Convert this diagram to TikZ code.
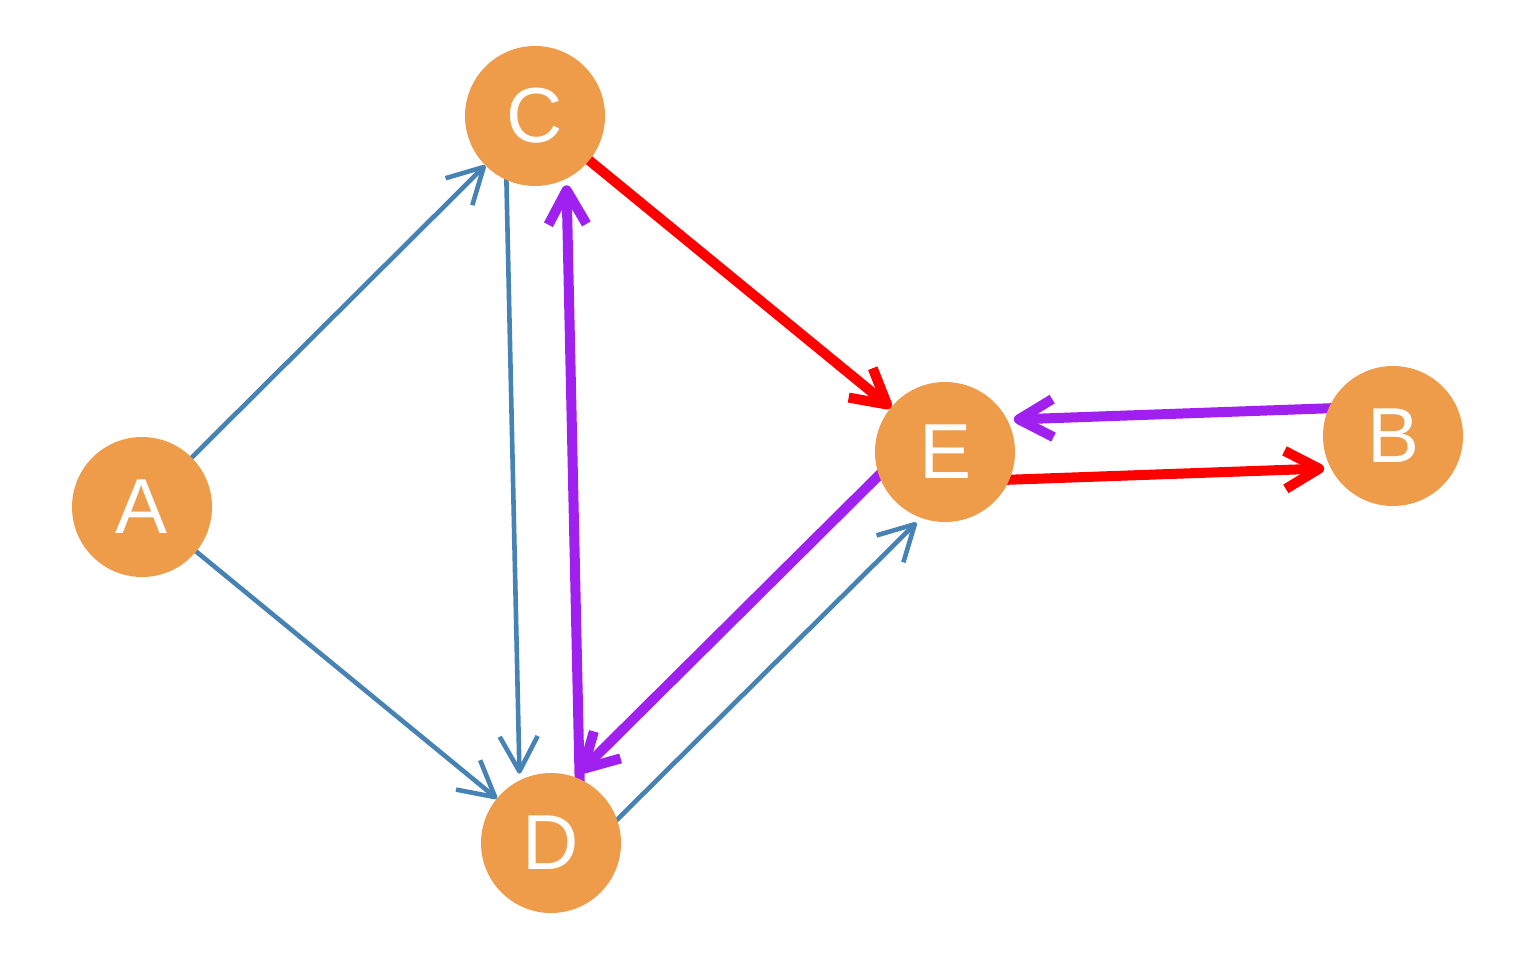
\documentclass[tikz,border=0pt]{standalone}
\usepackage{fontspec}
\setmainfont{Liberation Sans}
\usetikzlibrary{arrows.meta,calc,backgrounds}
\definecolor{nodeorange}{RGB}{238,155,74}
\definecolor{edgeblue}{RGB}{70,130,180}
\definecolor{edgered}{RGB}{255,0,0}
\definecolor{edgepurple}{RGB}{160,32,240}
\tikzset{
  vertex/.style={circle,fill=nodeorange,minimum size=70pt,inner sep=0pt,text=white,font=\fontsize{39}{39}\selectfont},
  thinedge/.style={draw=edgeblue,line width=2.3pt,shorten >=35pt,
    -{Straight Barb[length=17.5pt,width=19pt,line cap=butt,line join=round]}},
  thickedge/.style={line width=5pt,shorten >=35pt,
    -{Straight Barb[length=17pt,width=19pt,line cap=butt,line join=round]}},
  rededge/.style={thickedge,draw=edgered},
  purpleedge/.style={thickedge,draw=edgepurple},
}
\begin{document}
\begin{tikzpicture}[x=0.5pt,y=-0.5pt]
\useasboundingbox (0,0) rectangle (1536,960);
\node[vertex] (A) at (142,507) {A};
\node[vertex] (C) at (535,116) {C};
\node[vertex] (D) at (551,843) {D};
\node[vertex] (E) at (945,452) {E};
\node[vertex] (B) at (1393,436) {B};
\begin{scope}[on background layer]
  % single edges (centre to centre)
  \draw[thinedge] (A.center) -- (C.center);
  \draw[thinedge] (A.center) -- (D.center);
  \draw[rededge] (C.center) -- (E.center);
  % paired edges, shifted to the right of travel
  \draw[thinedge] ($(C)!15pt!-90:(D)$) -- ($(D)!15pt!90:(C)$);
  \draw[purpleedge] ($(D)!15pt!-90:(C)$) -- ($(C)!15pt!90:(D)$);
  \draw[thinedge] ($(D)!15pt!-90:(E)$) -- ($(E)!15pt!90:(D)$);
  \draw[purpleedge] ($(E)!15pt!-90:(D)$) -- ($(D)!15pt!90:(E)$);
  \draw[rededge] ($(E)!15pt!-90:(B)$) -- ($(B)!15pt!90:(E)$);
  \draw[purpleedge] ($(B)!15pt!-90:(E)$) -- ($(E)!15pt!90:(B)$);
\end{scope}
\end{tikzpicture}
\end{document}
